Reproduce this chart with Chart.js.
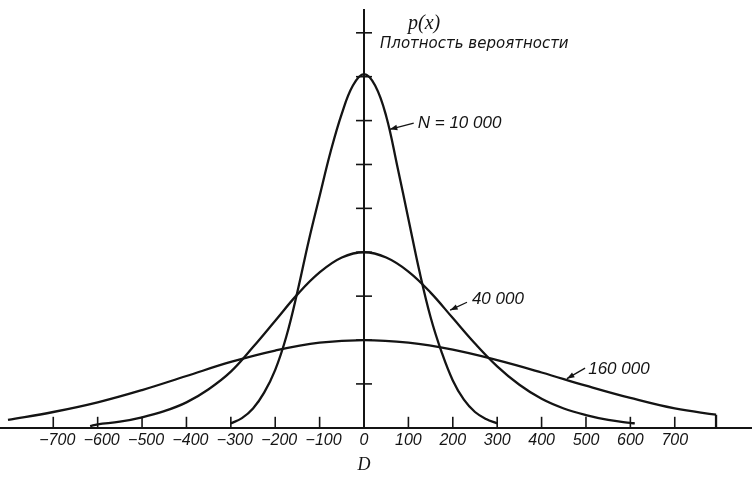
<!DOCTYPE html>
<html lang="ru">
<head>
    <meta charset="UTF-8">
    <title>Плотность вероятности</title>
    <script src="https://cdn.jsdelivr.net/npm/chart.js"></script>
    <style>
        html, body {
            margin: 0;
            padding: 0;
            background: #ffffff;
        }
        #densityChart {
            display: block;
        }
    </style>
</head>
<body>

<canvas id="densityChart" width="752" height="477"></canvas>

<script>
    // Значения D для каждой кривой
    const d10k = [-300, -275, -250, -225, -200, -175, -150, -125, -100, -75, -50, -25, 0, 25, 50, 75, 100, 125, 150, 175, 200, 225, 250, 275, 300];
    const p10k = [0.05, 0.11, 0.22, 0.40, 0.66, 1.04, 1.55, 2.12, 2.64, 3.15, 3.58, 3.90, 4.03, 3.90, 3.55, 2.98, 2.38, 1.78, 1.26, 0.86, 0.54, 0.32, 0.18, 0.10, 0.05];

    const d40k = [-617, -600, -550, -500, -450, -400, -350, -300, -250, -200, -150, -100, -50, 0, 50, 100, 150, 200, 250, 300, 350, 400, 450, 500, 550, 600, 610];
    const p40k = [0.02, 0.04, 0.07, 0.12, 0.19, 0.29, 0.44, 0.64, 0.92, 1.22, 1.52, 1.77, 1.94, 2.00, 1.94, 1.78, 1.54, 1.25, 0.96, 0.70, 0.49, 0.33, 0.22, 0.145, 0.09, 0.055, 0.05];

    const d160k = [-802, -700, -600, -500, -400, -300, -200, -100, 0, 100, 200, 300, 400, 500, 600, 700, 793];
    const p160k = [0.09, 0.18, 0.29, 0.43, 0.59, 0.75, 0.88, 0.97, 1.00, 0.97, 0.89, 0.77, 0.63, 0.48, 0.34, 0.22, 0.15];

    // обрыв кривой 160 000 справа
    const dEdge = [793, 793];
    const pEdge = [0.15, 0];

    // Деления осей
    const xTicks = [-700, -600, -500, -400, -300, -200, -100, 0, 100, 200, 300, 400, 500, 600, 700];
    const yTicks = [0.5, 1.0, 1.5, 2.0, 2.5, 3.0, 3.5, 4.0, 4.5];

    // Подписи кривых
    const curveLabels = ['N = 10 000', '40 000', '160 000'];

    function points(xs, ys) {
        return xs.map((x, i) => ({ x: x, y: ys[i] }));
    }

    const ink = '#141414';

    function line(xs, ys) {
        return {
            data: points(xs, ys),
            showLine: true,
            borderColor: ink,
            borderWidth: 2.3,
            pointRadius: 0,
            fill: false,
            tension: 0.4
        };
    }

    // стрелки и подписи (в координатах данных)
    const notes = [
        { text: curveLabels[0], head: [58, 3.40], tail: [112, 3.47], at: [121, 3.47] },
        { text: curveLabels[1], head: [194, 1.34], tail: [232, 1.43], at: [243, 1.47] },
        { text: curveLabels[2], head: [457, 0.56], tail: [498, 0.68], at: [505, 0.665] }
    ];

    const decor = {
        id: 'decor',
        afterDatasetsDraw(chart) {
            const ctx = chart.ctx;
            const xs = chart.scales.x;
            const ys = chart.scales.y;
            const x0 = xs.getPixelForValue(0);
            const base = ys.getPixelForValue(0);
            ctx.save();
            ctx.strokeStyle = ink;
            ctx.fillStyle = ink;
            ctx.lineWidth = 1.6;

            // засечки на вертикальной оси
            yTicks.forEach(v => {
                const y = ys.getPixelForValue(v);
                ctx.beginPath();
                ctx.moveTo(x0 - 8, y);
                ctx.lineTo(x0 + 8, y);
                ctx.stroke();
            });

            // засечки на горизонтальной оси
            xTicks.forEach(v => {
                if (v === 0) return;
                const x = xs.getPixelForValue(v);
                ctx.beginPath();
                ctx.moveTo(x, base);
                ctx.lineTo(x, base - 11);
                ctx.stroke();
            });

            // стрелки с подписями
            ctx.lineWidth = 1.3;
            notes.forEach(n => {
                const hx = xs.getPixelForValue(n.head[0]), hy = ys.getPixelForValue(n.head[1]);
                const tx = xs.getPixelForValue(n.tail[0]), ty = ys.getPixelForValue(n.tail[1]);
                ctx.beginPath();
                ctx.moveTo(tx, ty);
                ctx.lineTo(hx, hy);
                ctx.stroke();
                const a = Math.atan2(hy - ty, hx - tx);
                ctx.beginPath();
                ctx.moveTo(hx, hy);
                ctx.lineTo(hx - 8 * Math.cos(a - 0.35), hy - 8 * Math.sin(a - 0.35));
                ctx.lineTo(hx - 8 * Math.cos(a + 0.35), hy - 8 * Math.sin(a + 0.35));
                ctx.closePath();
                ctx.fill();

                ctx.font = 'italic 17px "Liberation Sans", sans-serif';
                ctx.textAlign = 'left';
                ctx.textBaseline = 'middle';
                ctx.fillText(n.text, xs.getPixelForValue(n.at[0]), ys.getPixelForValue(n.at[1]));
            });

            // подписи осей
            ctx.textBaseline = 'middle';
            ctx.font = 'italic 20px "Liberation Serif", serif';
            ctx.fillText('p(x)', x0 + 44, 24);
            ctx.font = 'italic 15px "DejaVu Sans", sans-serif';
            ctx.fillText('Плотность вероятности', x0 + 16, 44);
            ctx.textAlign = 'center';
            ctx.font = 'italic 18px "Liberation Serif", serif';
            ctx.fillText('D', x0, 465);
            ctx.restore();
        }
    };

    const config = {
        type: 'scatter',
        data: {
            datasets: [
                line(d10k, p10k),
                line(d40k, p40k),
                line(d160k, p160k),
                line(dEdge, pEdge)
            ]
        },
        options: {
            responsive: false,
            animation: false,
            layout: {
                padding: { top: 10, left: 0, right: 0, bottom: 24 }
            },
            plugins: {
                legend: { display: false },
                tooltip: { enabled: false }
            },
            scales: {
                x: {
                    type: 'linear',
                    position: 'bottom',
                    min: -820,
                    max: 874,
                    afterBuildTicks: scale => {
                        scale.ticks = xTicks.map(v => ({ value: v }));
                    },
                    grid: { drawOnChartArea: false, drawTicks: false, color: 'rgba(0,0,0,0)' },
                    border: { display: true, color: ink, width: 2 },
                    ticks: {
                        autoSkip: false,
                        maxRotation: 0,
                        padding: 3,
                        color: ink,
                        font: { family: '"Liberation Sans", sans-serif', size: 16, style: 'italic' },
                        // минус висит левее, цифры — под засечкой
                        callback: v => (v < 0 ? '\u2002\u2212' + Math.abs(v) : String(v))
                    }
                },
                y: {
                    type: 'linear',
                    position: { x: 0 },
                    min: 0,
                    max: 4.76,
                    afterBuildTicks: scale => {
                        scale.ticks = yTicks.map(v => ({ value: v }));
                    },
                    grid: { drawOnChartArea: false, drawTicks: false, color: 'rgba(0,0,0,0)' },
                    border: { display: true, color: ink, width: 2 },
                    ticks: { display: false }
                }
            }
        },
        plugins: [decor]
    };

    const densityChart = new Chart(
        document.getElementById('densityChart'),
        config
    );
</script>

</body>
</html>
